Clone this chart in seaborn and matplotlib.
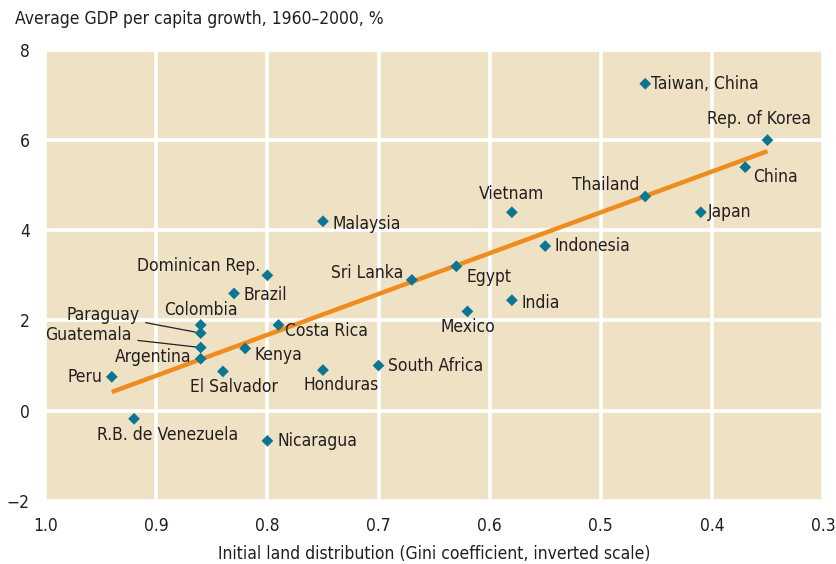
import numpy as np
import pandas as pd
import matplotlib.pyplot as plt
import seaborn as sns

# Data
countries = ['Taiwan, China', 'Rep. of Korea', 'China', 'Thailand', 'Japan',
             'Vietnam', 'Indonesia', 'Malaysia', 'Egypt', 'Sri Lanka',
             'India', 'Mexico', 'Dominican Rep.', 'Brazil', 'Costa Rica',
             'Colombia', 'Paraguay', 'Guatemala', 'Argentina', 'Kenya',
             'El Salvador', 'Peru', 'Honduras', 'South Africa',
             'R.B. de Venezuela', 'Nicaragua']
gini = [0.46, 0.35, 0.37, 0.46, 0.41,
        0.58, 0.55, 0.75, 0.63, 0.67,
        0.58, 0.62, 0.80, 0.83, 0.79,
        0.86, 0.86, 0.86, 0.86, 0.82,
        0.84, 0.94, 0.75, 0.70,
        0.92, 0.80]
growth = [7.25, 6.0, 5.4, 4.75, 4.4,
          4.4, 3.65, 4.2, 3.2, 2.9,
          2.45, 2.2, 3.0, 2.6, 1.9,
          1.9, 1.72, 1.4, 1.15, 1.38,
          0.87, 0.75, 0.9, 1.0,
          -0.18, -0.67]

df = pd.DataFrame({'country': countries, 'gini': gini, 'growth': growth})

# label placement: (dx, dy) in points, horizontal alignment
label_pos = {
    'Taiwan, China': (4, 0, 'left'),
    'Rep. of Korea': (-6, 15, 'center'),
    'China': (6, -7, 'left'),
    'Thailand': (-4, 8, 'right'),
    'Japan': (5, 0, 'left'),
    'Vietnam': (0, 13, 'center'),
    'Indonesia': (7, 0, 'left'),
    'Malaysia': (7, -2, 'left'),
    'Egypt': (7, -8, 'left'),
    'Sri Lanka': (-6, 5, 'right'),
    'India': (7, -2, 'left'),
    'Mexico': (0, -11, 'center'),
    'Dominican Rep.': (-5, 7, 'right'),
    'Brazil': (7, -1, 'left'),
    'Costa Rica': (5, -4, 'left'),
    'Colombia': (0, 11, 'center'),
    'Argentina': (-7, 1, 'right'),
    'Kenya': (7, -5, 'left'),
    'El Salvador': (8, -11, 'center'),
    'Peru': (-7, 0, 'right'),
    'Honduras': (13, -11, 'center'),
    'South Africa': (7, 0, 'left'),
    'R.B. de Venezuela': (24, -12, 'center'),
    'Nicaragua': (7, 0, 'left'),
}
# labels with leader lines: text position in data coords
leader_pos = {
    'Paraguay': (0.915, 2.13),
    'Guatemala': (0.922, 1.68),
}

bg = '#efe1c3'
marker_color = '#0b7593'
line_color = '#f08c1e'
text_color = '#231f20'
fs = 12.5

sns.set_style('white')
plt.rcParams['font.family'] = ['DejaVu Sans']
plt.rcParams['font.stretch'] = 'condensed'

fig = plt.figure(figsize=(8.36, 5.64), dpi=100)
ax = fig.add_axes([0.054, 0.112, 0.9305, 0.7995])
ax.set_facecolor(bg)

sns.regplot(data=df, x='gini', y='growth', scatter=False, ci=None, ax=ax,
            line_kws={'color': line_color, 'lw': 3.2, 'solid_capstyle': 'butt', 'zorder': 3})
sns.scatterplot(data=df, x='gini', y='growth', marker='D', s=36,
                color=marker_color, edgecolor='none', ax=ax, zorder=4)

for c, g, v in zip(countries, gini, growth):
    if c in label_pos:
        dx, dy, ha = label_pos[c]
        ax.annotate(c, (g, v), xytext=(dx, dy), textcoords='offset points',
                    ha=ha, va='center', fontsize=fs, color=text_color, zorder=5)
    else:
        tx, ty = leader_pos[c]
        ax.annotate(c, (g, v), xytext=(tx, ty), textcoords='data',
                    ha='right', va='center', fontsize=fs, color=text_color,
                    arrowprops=dict(arrowstyle='-', color=text_color, lw=0.9,
                                    shrinkA=2, shrinkB=4), zorder=5)

ax.set_xlim(1.0, 0.3)
ax.set_ylim(-2, 8)
ax.set_xticks(np.arange(1.0, 0.25, -0.1))
ax.set_xticklabels(['1.0', '0.9', '0.8', '0.7', '0.6', '0.5', '0.4', '0.3'])
ax.set_yticks([-2, 0, 2, 4, 6, 8])
ax.set_yticklabels(['\u22122', '0', '2', '4', '6', '8'])
ax.grid(True, color='white', lw=2.6)
ax.set_axisbelow(True)
for s in ax.spines.values():
    s.set_visible(False)
ax.tick_params(length=0, labelsize=fs, colors=text_color)
ax.tick_params(axis='x', pad=12)
ax.tick_params(axis='y', pad=11)
ax.set_xlabel('Initial land distribution (Gini coefficient, inverted scale)',
              fontsize=fs, color=text_color, labelpad=7)
ax.set_ylabel('')
fig.text(0.018, 0.967, 'Average GDP per capita growth, 1960\u20132000, %',
         fontsize=fs, color=text_color, ha='left', va='center')

fig.savefig('out.png', dpi=100)
